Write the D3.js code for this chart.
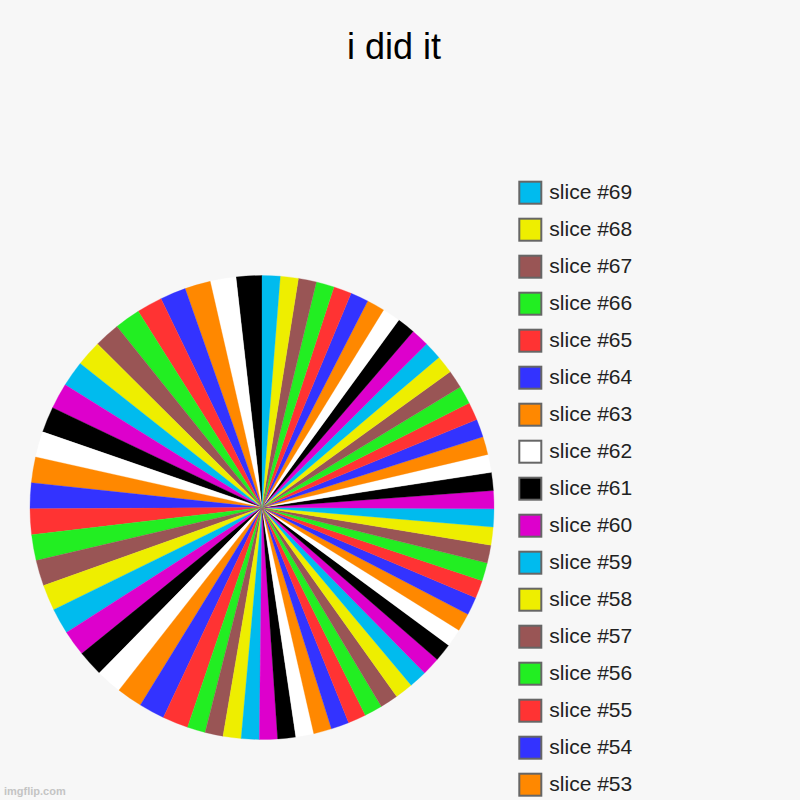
<!DOCTYPE html>
<html>
<head>
<meta charset="utf-8">
<script src="https://cdn.jsdelivr.net/npm/d3@7"></script>
<style>
  html, body { margin: 0; padding: 0; background: #f7f7f7; }
  svg { display: block; font-family: "Liberation Sans", Arial, sans-serif; }
</style>
</head>
<body>
<svg width="800" height="800"></svg>
<script>
// Chart data
let title = "i did it";
let sliceLabels = [
    "slice #1", "slice #2", "slice #3", "slice #4", "slice #5", "slice #6", "slice #7", "slice #8", "slice #9", "slice #10",
    "slice #11", "slice #12", "slice #13", "slice #14", "slice #15", "slice #16", "slice #17", "slice #18", "slice #19", "slice #20",
    "slice #21", "slice #22", "slice #23", "slice #24", "slice #25", "slice #26", "slice #27", "slice #28", "slice #29", "slice #30",
    "slice #31", "slice #32", "slice #33", "slice #34", "slice #35", "slice #36", "slice #37", "slice #38", "slice #39", "slice #40",
    "slice #41", "slice #42", "slice #43", "slice #44", "slice #45", "slice #46", "slice #47", "slice #48", "slice #49", "slice #50",
    "slice #51", "slice #52", "slice #53", "slice #54", "slice #55", "slice #56", "slice #57", "slice #58", "slice #59", "slice #60",
    "slice #61", "slice #62", "slice #63", "slice #64", "slice #65", "slice #66", "slice #67", "slice #68", "slice #69"
];
let sliceValues = [
    10, 10, 10, 10, 10, 10, 10, 10, 10, 10,
    10, 10, 10, 10, 10, 10, 10, 10, 10, 10,
    10, 10, 10, 10, 10, 7, 7, 7, 7, 7,
    7, 7, 7, 7, 7, 7, 7, 7, 7, 7,
    7, 7, 7, 7, 7, 7, 7, 7, 7, 7,
    7, 7, 7, 7, 7, 7, 7, 7, 7, 7,
    7, 7, 7, 7, 7, 7, 7, 7, 7
];
// colour cycle, starting with slice #1
let palette = ["#000000", "#ffffff", "#ff8800", "#3333ff", "#ff3333", "#22ee22", "#995555", "#eeee00", "#00bbee", "#dd00cc"];

let svg = d3.select("svg");
let width = +svg.attr("width");
let height = +svg.attr("height");

let slices = sliceLabels.map((label, i) => ({ label: label, value: sliceValues[i] }));
let color = d3.scaleOrdinal().domain(sliceLabels).range(palette);

// Title
svg.append("text")
    .attr("x", 394)
    .attr("y", 59)
    .attr("text-anchor", "middle")
    .attr("font-size", 36)
    .attr("fill", "#000")
    .text(title);

// Pie, counterclockwise from 12 o'clock
let cx = 262, cy = 507.5, radius = 232;
let pie = d3.pie()
    .sort(null)
    .value(d => d.value)
    .startAngle(0)
    .endAngle(-2 * Math.PI);
let arc = d3.arc().innerRadius(0).outerRadius(radius);

let pieGroup = svg.append("g")
    .attr("class", "pie")
    .attr("transform", `translate(${cx},${cy})`);

pieGroup.selectAll("path")
    .data(pie(slices))
    .join("path")
    .attr("d", arc)
    .attr("fill", d => color(d.data.label))
    .attr("stroke", d => color(d.data.label))
    .attr("stroke-width", 0.3);

// Legend, last slice first; rows whose box still fits on the canvas
let legendTop = 181.7, rowStep = 37, boxSize = 22;
let visibleRows = Math.floor((height - legendTop - boxSize) / rowStep) + 1;
let legendItems = slices.slice().reverse().slice(0, visibleRows);
let legend = svg.append("g").attr("class", "legend");
let entry = legend.selectAll("g")
    .data(legendItems)
    .join("g")
    .attr("transform", (d, i) => `translate(519.3,${legendTop + i * rowStep})`);

entry.append("rect")
    .attr("width", boxSize)
    .attr("height", boxSize)
    .attr("fill", d => color(d.label))
    .attr("stroke", "#666")
    .attr("stroke-width", 2);

entry.append("text")
    .attr("x", 30)
    .attr("y", 17.5)
    .attr("font-size", 21)
    .attr("fill", "#222")
    .text(d => d.label);

// Watermark
svg.append("text")
    .attr("x", 4)
    .attr("y", 795)
    .attr("font-size", 11)
    .attr("font-weight", "bold")
    .attr("fill", "#c4c4c4")
    .text("imgflip.com");
</script>
</body>
</html>
